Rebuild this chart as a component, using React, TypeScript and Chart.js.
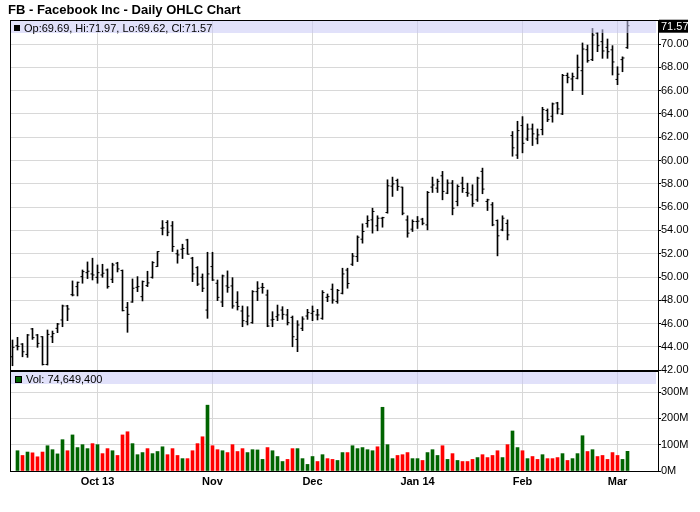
import React, { useEffect, useRef } from 'react';
import { Chart, registerables } from 'chart.js';

Chart.register(...registerables);

const TITLE = 'FB - Facebook Inc - Daily OHLC Chart';
const LAST_OPEN = 69.69;
const LAST_HIGH = 71.97;
const LAST_LOW = 69.62;
const LAST_CLOSE = 71.57;
const LAST_VOLUME = 74649400;

const OPEN = [
  43.16, 44.11, 44.25, 43.36, 45.55, 45.03, 44.88, 42.5, 44.88, 45.6,
  46.32, 47.52, 48.49, 49.18, 50.04, 50.38, 50.27, 49.98, 50.18, 50.61,
  49.81, 51.19, 50.56, 47.4, 47.86, 49.12, 48.32, 49.27, 49.98, 50.9,
  54.19, 54.68, 54.4, 52.0, 52.39, 53.19, 51.62, 50.81, 49.98, 47.17,
  50.9, 49.47, 47.86, 49.24, 49.24, 47.83, 47.09, 46.17, 46.09, 48.75,
  49.12, 48.46, 46.32, 46.6, 47.17, 46.75, 46.54, 44.65, 45.6, 46.66,
  46.89, 46.75, 46.46, 48.26, 48.95, 47.9, 48.61, 50.6, 51.1, 51.76,
  53.25, 54.6, 54.91, 54.4, 55.05, 55.54, 57.8, 58.29, 57.72, 54.9,
  54.11, 54.77, 54.97, 54.48, 57.72, 57.63, 58.69, 57.2, 58.06, 56.49,
  58.06, 57.26, 57.06, 56.63, 59.07, 56.49, 56.2, 54.85, 54.05, 54.6,
  62.14, 60.47, 63.0, 61.85, 62.71, 61.86, 62.66, 64.29, 63.8, 64.94,
  64.0, 67.3, 67.0, 67.06, 67.71, 69.51, 68.66, 70.94, 70.2, 69.71,
  69.5, 66.96, 68.66, 69.69,
];

const HIGH = [
  44.6, 44.83, 44.3, 45.08, 45.6, 45.08, 44.9, 45.46, 45.37, 46.03,
  47.6, 47.58, 49.67, 49.58, 50.61, 51.3, 51.62, 51.04, 51.1, 50.7,
  51.19, 51.27, 50.61, 47.83, 49.84, 50.04, 49.67, 50.5, 51.33, 52.19,
  54.85, 54.85, 54.77, 52.33, 52.82, 53.25, 51.7, 50.9, 50.27, 52.13,
  52.13, 49.75, 50.18, 50.53, 49.95, 48.75, 47.52, 47.46, 48.84, 49.61,
  49.47, 48.89, 47.03, 47.6, 47.46, 47.23, 46.66, 46.26, 46.6, 47.23,
  47.52, 47.23, 48.84, 48.55, 49.41, 48.95, 50.76, 50.76, 52.04, 53.54,
  54.57, 55.26, 55.91, 55.26, 55.14, 58.35, 58.58, 58.41, 57.72, 55.26,
  54.91, 55.2, 55.05, 57.35, 58.58, 58.41, 59.07, 58.35, 58.29, 57.92,
  58.58, 58.06, 57.92, 58.58, 59.35, 56.69, 56.4, 54.91, 55.26, 54.91,
  62.49, 63.37, 63.77, 63.14, 63.14, 62.71, 64.57, 64.43, 64.94, 65.0,
  67.4, 67.51, 67.51, 69.06, 70.09, 69.91, 71.34, 71.0, 71.23, 70.43,
  69.86, 68.05, 68.9, 71.97,
];

const LOW = [
  42.39, 43.74, 43.16, 43.11, 44.65, 43.97, 42.45, 42.45, 44.37, 45.23,
  45.74, 46.26, 48.38, 48.38, 49.47, 49.87, 49.75, 49.47, 49.98, 49.04,
  49.52, 50.44, 47.09, 45.26, 47.83, 48.75, 47.95, 49.18, 49.9, 50.9,
  53.62, 53.54, 52.19, 51.19, 51.59, 51.96, 49.61, 49.27, 48.75, 46.46,
  49.7, 47.98, 47.46, 48.69, 47.32, 47.17, 45.74, 45.89, 46.03, 47.98,
  48.61, 45.74, 45.74, 46.26, 46.37, 45.89, 44.02, 43.6, 45.4, 46.37,
  46.26, 46.32, 46.37, 47.89, 47.75, 47.75, 48.55, 49.04, 50.99, 51.33,
  52.91, 54.28, 53.77, 53.97, 54.28, 55.48, 56.92, 57.43, 55.34, 53.42,
  53.91, 54.17, 54.48, 54.05, 57.26, 57.26, 56.63, 57.15, 55.34, 56.11,
  57.26, 56.92, 56.06, 56.49, 57.15, 55.71, 54.4, 51.82, 53.97, 53.19,
  60.37, 60.17, 60.66, 61.71, 61.29, 61.43, 62.2, 63.34, 63.29, 64.0,
  63.94, 66.66, 66.0, 67.0, 65.66, 68.43, 68.57, 69.34, 68.77, 68.77,
  67.34, 66.51, 67.62, 69.62,
];

const CLOSE = [
  43.97, 44.05, 43.59, 45.03, 44.8, 44.31, 42.5, 45.08, 45.15, 45.97,
  47.52, 47.26, 48.46, 49.55, 50.47, 50.5, 50.18, 50.38, 50.33, 49.18,
  51.04, 50.7, 47.12, 46.8, 49.04, 49.18, 49.61, 49.5, 51.24, 52.19,
  54.22, 53.85, 52.62, 51.9, 52.45, 51.96, 50.27, 49.4, 49.04, 50.27,
  49.75, 48.26, 50.1, 49.12, 47.52, 47.48, 46.26, 46.66, 48.75, 49.04,
  49.1, 45.8, 46.37, 46.75, 46.8, 46.09, 44.88, 45.89, 46.4, 46.95,
  47.06, 46.75, 48.67, 48.32, 48.03, 48.85, 50.27, 49.45, 51.8, 53.42,
  53.91, 54.85, 55.63, 55.05, 55.1, 57.83, 58.0, 57.78, 55.48, 53.77,
  54.77, 54.8, 54.62, 57.26, 57.9, 58.21, 57.35, 58.06, 55.91, 57.78,
  57.6, 57.2, 56.3, 58.49, 57.55, 56.63, 54.48, 53.54, 55.05, 53.62,
  61.09, 62.57, 61.48, 62.7, 62.29, 62.2, 64.37, 63.51, 64.86, 64.43,
  67.3, 67.14, 67.2, 68.0, 69.57, 68.57, 70.77, 69.86, 69.4, 69.34,
  68.46, 67.41, 68.8, 71.57,
];

// volume in millions of shares (first session has no visible volume bar)
const VOLUME: (number | null)[] = [
  null,
  77, 59, 72, 69, 54, 72, 96, 81, 65, 119,
  77, 137, 89, 100, 85, 104, 100, 66, 85, 77,
  59, 137, 149, 104, 62, 70, 85, 66, 74, 92,
  62, 85, 59, 47, 47, 77, 104, 130, 250, 96,
  81, 77, 70, 100, 74, 85, 70, 81, 80, 44,
  89, 77, 55, 36, 44, 85, 85, 47, 25, 55,
  36, 62, 47, 44, 40, 70, 70, 96, 85, 89,
  81, 77, 92, 242, 100, 47, 59, 62, 70, 47,
  47, 40, 70, 81, 59, 96, 44, 66, 40, 36,
  36, 44, 51, 62, 51, 59, 77, 51, 100, 152,
  89, 77, 47, 55, 44, 62, 47, 47, 51, 66,
  40, 47, 66, 134, 74, 81, 55, 59, 44, 70,
  59, 44, 74.65,
];

// 1 = up day (green volume bar), 0 = down day (red)
const VOLUME_UP = [
  1,
  1, 0, 1, 0, 0, 0, 1, 1, 1, 1,
  0, 1, 1, 1, 1, 0, 1, 0, 0, 1,
  0, 0, 0, 1, 1, 1, 0, 1, 1, 1,
  0, 0, 0, 1, 0, 0, 0, 0, 1, 0,
  0, 1, 0, 0, 0, 0, 1, 1, 1, 1,
  0, 1, 1, 1, 0, 0, 1, 1, 1, 1,
  0, 1, 0, 0, 1, 1, 0, 1, 1, 1,
  1, 1, 0, 1, 1, 1, 0, 0, 0, 1,
  1, 0, 1, 1, 1, 0, 1, 0, 1, 0,
  0, 0, 1, 0, 0, 0, 0, 1, 0, 1,
  1, 0, 1, 0, 0, 1, 0, 0, 0, 1,
  0, 1, 1, 1, 0, 1, 0, 0, 0, 0,
  0, 1, 1,
];

const MONTH_INDEX = [17, 40, 60, 81, 102, 121];
const MONTH_LABELS = ['Oct 13', 'Nov', 'Dec', 'Jan 14', 'Feb', 'Mar'];
const PRICE_TICKS = [42, 44, 46, 48, 50, 52, 54, 56, 58, 60, 62, 64, 66, 68, 70];
const VOLUME_TICKS = [0, 100, 200, 300];

const FONT = '"Liberation Sans", Arial, Helvetica, sans-serif';
const GRID = '#d8d8d8';
const GREEN = '#006400';
const RED = '#ff0000';

function fmtInt(n: number) {
  return Math.round(n).toString().replace(/\B(?=(\d{3})+(?!\d))/g, ',');
}

const overlayPlugin = {
  id: 'overlay',
  afterDraw(chart: any) {
    const { ctx, chartArea } = chart;
    const { left, right, top, bottom } = chartArea;
    const yMain = chart.scales.y;
    const yVol = chart.scales.yv;
    ctx.save();
    // legend bands (semi transparent over bars & grid)
    ctx.fillStyle = 'rgba(200,200,245,0.55)';
    ctx.fillRect(left + 1, top + 1, right - left - 3, 12);
    ctx.fillRect(left + 1, yVol.top + 1, right - left - 3, 12);
    // frame
    ctx.fillStyle = '#000';
    ctx.fillRect(left, top, right - left, 1);
    ctx.fillRect(left, top, 1, bottom - top);
    ctx.fillRect(left, yMain.bottom - 1, right - left, 2);
    ctx.fillRect(left, bottom, right - left + 1, 1);
    // title
    ctx.fillStyle = '#000';
    ctx.font = 'bold 13px ' + FONT;
    ctx.textBaseline = 'alphabetic';
    ctx.textAlign = 'left';
    ctx.fillText(TITLE, 8, 14);
    // price legend
    ctx.fillRect(left + 4, top + 5, 6, 6);
    ctx.font = '11px ' + FONT;
    ctx.fillText(
      `Op:${LAST_OPEN.toFixed(2)}, Hi:${LAST_HIGH.toFixed(2)}, Lo:${LAST_LOW.toFixed(2)}, Cl:${LAST_CLOSE.toFixed(2)}`,
      left + 14, top + 11.5
    );
    // volume legend
    ctx.fillStyle = '#000';
    ctx.fillRect(left + 5, yVol.top + 5, 7, 7);
    ctx.fillStyle = GREEN;
    ctx.fillRect(left + 6, yVol.top + 6, 5, 5);
    ctx.fillStyle = '#000';
    ctx.fillText(`Vol: ${fmtInt(LAST_VOLUME)}`, left + 16, yVol.top + 11.5);
    // last price box on the axis
    const py = yMain.getPixelForValue(LAST_CLOSE);
    ctx.fillStyle = '#000';
    ctx.fillRect(right + 1, py - 6, 29, 13);
    ctx.fillStyle = '#fff';
    ctx.fillText(LAST_CLOSE.toFixed(2), right + 3, py + 4.5);
    ctx.restore();
  },
};

export default function App() {
  const canvasRef = useRef<HTMLCanvasElement | null>(null);

  useEffect(() => {
    const canvas = canvasRef.current;
    if (!canvas) return;
    Chart.defaults.font.family = FONT;
    const idx = OPEN.map((_, i) => i);

    const chart = new Chart(canvas, {
      type: 'bar',
      data: {
        datasets: [
          {
            type: 'bar',
            label: 'High-Low',
            data: idx.map((i) => ({ x: i, y: [LOW[i], HIGH[i]] })) as any,
            backgroundColor: '#000',
            borderWidth: 0,
            barThickness: 1,
            grouped: false,
            xAxisID: 'x',
            yAxisID: 'y',
          } as any,
          {
            type: 'line',
            label: 'Open',
            data: idx.map((i) => ({ x: i, y: OPEN[i] })),
            showLine: false,
            pointStyle: 'dash',
            pointRotation: 180,
            pointRadius: 2,
            pointBorderColor: '#000',
            pointBackgroundColor: '#000',
            pointBorderWidth: 1,
            xAxisID: 'x',
            yAxisID: 'y',
          } as any,
          {
            type: 'line',
            label: 'Close',
            data: idx.map((i) => ({ x: i, y: CLOSE[i] })),
            showLine: false,
            pointStyle: 'dash',
            pointRotation: 0,
            pointRadius: 2,
            pointBorderColor: '#000',
            pointBackgroundColor: '#000',
            pointBorderWidth: 1,
            xAxisID: 'x',
            yAxisID: 'y',
          } as any,
          {
            type: 'bar',
            label: 'Volume',
            data: idx.map((i) => ({ x: i, y: VOLUME[i] })) as any,
            backgroundColor: VOLUME_UP.map((u) => (u ? GREEN : RED)),
            borderWidth: 0,
            barThickness: 3,
            grouped: false,
            xAxisID: 'x',
            yAxisID: 'yv',
          } as any,
        ],
      },
      options: {
        responsive: false,
        animation: false,
        events: [],
        layout: { padding: { left: 10, top: 20, right: 0, bottom: 0 } },
        plugins: {
          legend: { display: false },
          tooltip: { enabled: false },
          title: { display: false },
        },
        scales: {
          x: {
            type: 'linear',
            min: -0.5,
            max: 129.1,
            offset: false,
            grid: { color: GRID, drawTicks: false, offset: false },
            border: { display: false },
            ticks: {
              autoSkip: false,
              maxRotation: 0,
              padding: 4,
              color: '#000',
              font: { size: 11, weight: 'bold' },
              callback: (_v: any, i: number) => MONTH_LABELS[i],
            },
            afterBuildTicks: (s: any) => {
              s.ticks = MONTH_INDEX.map((v) => ({ value: v }));
            },
            afterFit: (s: any) => {
              s.height = 41;
            },
          },
          y: {
            type: 'linear',
            position: 'right',
            stack: 'panels',
            stackWeight: 351,
            min: 41.94,
            max: 72.06,
            grid: { color: GRID, tickColor: '#000', tickLength: 3 },
            border: { color: '#000' },
            ticks: {
              autoSkip: false,
              padding: 0,
              color: '#000',
              font: { size: 11 },
              callback: (v: any) => Number(v).toFixed(2),
            },
            afterBuildTicks: (s: any) => {
              s.ticks = PRICE_TICKS.map((v) => ({ value: v }));
            },
            afterFit: (s: any) => {
              s.width = 42;
            },
          },
          yv: {
            type: 'linear',
            position: 'right',
            stack: 'panels',
            stackWeight: 100,
            min: 0,
            max: 379.8,
            grid: { color: GRID, tickColor: '#000', tickLength: 3 },
            border: { color: '#000' },
            ticks: {
              autoSkip: false,
              padding: 0,
              color: '#000',
              font: { size: 11 },
              callback: (v: any) => `${v}M`,
            },
            afterBuildTicks: (s: any) => {
              s.ticks = VOLUME_TICKS.map((v) => ({ value: v }));
            },
            afterFit: (s: any) => {
              s.width = 42;
            },
          },
        },
      } as any,
      plugins: [overlayPlugin],
    });

    return () => {
      chart.destroy();
    };
  }, []);

  return (
    <div style={{ position: 'fixed', left: 0, top: 0, width: 700, height: 512, background: '#fff' }}>
      <canvas ref={canvasRef} width={700} height={512} style={{ width: 700, height: 512, display: 'block' }} />
    </div>
  );
}
